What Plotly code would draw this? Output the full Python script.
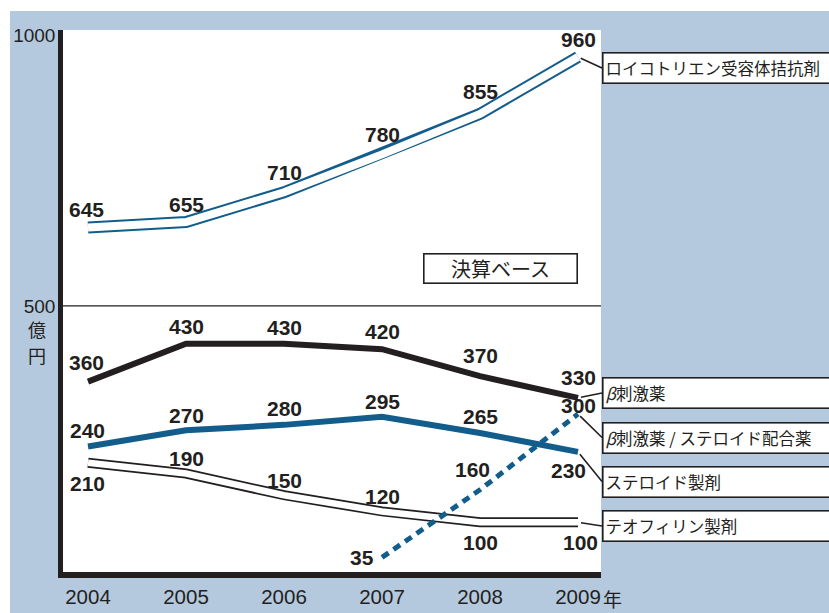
import plotly.graph_objects as go

# ---------------- data ----------------
years = [2004, 2005, 2006, 2007, 2008, 2009]
leukotriene = [645, 655, 710, 780, 855, 960]
beta = [360, 430, 430, 420, 370, 330]
steroid = [240, 270, 280, 295, 265, 230]
theophylline = [210, 190, 150, 120, 100, 100]
combo_years = [2007, 2008, 2009]
combo = [35, 160, 300]

series_names = ["ロイコトリエン受容体拮抗剤", "<i>β</i>刺激薬",
                "<i>β</i>刺激薬 / ステロイド配合薬", "ステロイド製剤", "テオフィリン製剤"]
x_ticktext = ["2004", "2005", "2006", "2007", "2008", "2009"]
y_tickvals = [500, 1000]
note_text = "決算ベース"
unit_chars = ["億", "円"]
year_suffix = "年"

# ---------------- style ----------------
BLUE = "#135d8c"
BLACK = "#231f20"
BG = "#b4c9de"
NUM_FONT = "Liberation Sans, Arial, sans-serif"
JP_FONT = "Noto Sans CJK JP, sans-serif"

# plot area in pixels
L, R, T, B = 63, 601, 30, 572
W, H = 829, 613
YMIN, YMAX = 8, 1010
XMIN, XMAX = 2004 - 25 / 98, 2009 + 23 / 98


def y_from_px(py):
    return YMAX - (py - T) * (YMAX - YMIN) / (B - T)


def px_paper_x(px):
    return (px - L) / (R - L)


def px_paper_y(py):
    return (B - py) / (B - T)


fig = go.Figure()

# theophylline double line (black)
fig.add_trace(go.Scatter(x=years, y=theophylline, mode="lines",
                         line=dict(color=BLACK, width=10), hoverinfo="skip"))
fig.add_trace(go.Scatter(x=years, y=theophylline, mode="lines",
                         line=dict(color="white", width=6.5), hoverinfo="skip"))
# leukotriene double line (blue)
fig.add_trace(go.Scatter(x=years, y=leukotriene, mode="lines",
                         line=dict(color=BLUE, width=12), hoverinfo="skip"))
fig.add_trace(go.Scatter(x=years, y=leukotriene, mode="lines",
                         line=dict(color="white", width=8), hoverinfo="skip"))
# beta (black thick)
fig.add_trace(go.Scatter(x=years, y=beta, mode="lines",
                         line=dict(color=BLACK, width=6), hoverinfo="skip"))
# steroid (blue thick)
fig.add_trace(go.Scatter(x=years, y=steroid, mode="lines",
                         line=dict(color=BLUE, width=6), hoverinfo="skip"))
# combo (blue dotted)
fig.add_trace(go.Scatter(x=combo_years, y=combo, mode="lines",
                         line=dict(color=BLUE, width=5, dash="8px,6px"), hoverinfo="skip"))

annotations = []


def add_labels(xs, vals, shifts):
    for xv, v, (dx, dy) in zip(xs, vals, shifts):
        annotations.append(dict(
            x=xv, y=v, xref="x", yref="y", text=str(v), showarrow=False,
            xshift=dx, yshift=dy, xanchor="center", yanchor="middle",
            font=dict(family=NUM_FONT, size=21, color=BLACK, weight="bold")))


add_labels(years, leukotriene, [(-2, 18), (0, 18), (0, 20), (0, 20), (0, 22), (0, 18)])
add_labels(years, beta, [(-2, 19), (0, 17), (0, 16), (0, 18), (0, 21), (0, 20)])
add_labels(years, steroid, [(-1, 16), (0, 15), (0, 16), (0, 15), (0, 16), (-10, -19)])
add_labels(combo_years, combo, [(-20, 0), (-8, 20), (0, 9)])
add_labels(years, theophylline, [(-1, -21), (0, 15), (0, 15), (0, 15), (0, -20), (2, -20)])

# legend boxes with connectors
box_centers_px = [68, 393, 437.5, 481.5, 526]
ends = [(2009, leukotriene[-1]), (2009, beta[-1]), (2009, combo[-1]),
        (2009, steroid[-1]), (2009, theophylline[-1])]
for name, (xe, ye), cy in zip(series_names, ends, box_centers_px):
    annotations.append(dict(
        x=xe, y=ye, xref="x", yref="y", text=name,
        showarrow=True, arrowhead=0, arrowwidth=1.6, arrowcolor=BLACK, standoff=3,
        axref="pixel", ax=R + 1 - 578, ayref="y", ay=y_from_px(cy),
        xanchor="left", yanchor="middle", align="left",
        width=262, height=25, borderpad=2, borderwidth=1.6,
        bordercolor=BLACK, bgcolor="white",
        font=dict(family=JP_FONT, size=16.5, color=BLACK)))

# "決算ベース" box
annotations.append(dict(
    x=px_paper_x(500), y=px_paper_y(268), xref="paper", yref="paper",
    xanchor="center", yanchor="middle",
    text=note_text, showarrow=False, width=148, height=24, borderpad=2,
    borderwidth=1.6, bordercolor=BLACK, bgcolor="white",
    font=dict(family=JP_FONT, size=20, color=BLACK)))
# unit (vertical)
for ch, cy in zip(unit_chars, [329, 355]):
    annotations.append(dict(
        x=px_paper_x(37), y=px_paper_y(cy), xref="paper", yref="paper",
        xanchor="center", yanchor="middle",
        text=ch, showarrow=False,
        font=dict(family=JP_FONT, size=18, color=BLACK)))
# 年
annotations.append(dict(
    x=px_paper_x(612), y=px_paper_y(598), xref="paper", yref="paper",
    xanchor="center", yanchor="middle",
    text=year_suffix, showarrow=False,
    font=dict(family=JP_FONT, size=19, color=BLACK)))

shapes = [
    # blue background panel
    dict(type="rect", xref="paper", yref="paper", layer="below",
         x0=px_paper_x(10), x1=1.5, y0=-0.1, y1=px_paper_y(11),
         fillcolor=BG, line=dict(width=0)),
    # white plot area
    dict(type="rect", xref="paper", yref="paper", layer="below",
         x0=0, x1=1, y0=0, y1=1, fillcolor="white", line=dict(width=0)),
    # 500 reference line
    dict(type="line", xref="paper", yref="y", layer="below",
         x0=0, x1=1, y0=y_tickvals[0], y1=y_tickvals[0],
         line=dict(color=BLACK, width=1.2)),
]

fig.update_layout(
    width=W, height=H,
    margin=dict(l=L, r=W - R, t=T, b=H - B, pad=0, autoexpand=False),
    paper_bgcolor="white", plot_bgcolor="rgba(0,0,0,0)",
    showlegend=False,
    annotations=annotations, shapes=shapes,
    xaxis=dict(range=[XMIN, XMAX], tickvals=years, ticktext=x_ticktext,
               showgrid=False, zeroline=False, showline=True, automargin=False,
               linecolor=BLACK, linewidth=5.5, ticks="",
               tickfont=dict(family=NUM_FONT, size=20.5, color=BLACK),
               ticklabelstandoff=2),
    yaxis=dict(range=[YMIN, YMAX], tickvals=y_tickvals,
               ticktext=[str(v) for v in y_tickvals], automargin=False,
               showgrid=False, zeroline=False, showline=True,
               linecolor=BLACK, linewidth=4.5, ticks="",
               tickfont=dict(family=NUM_FONT, size=19, color=BLACK),
               ticklabelstandoff=-1),
)

fig.write_html("out.html")
